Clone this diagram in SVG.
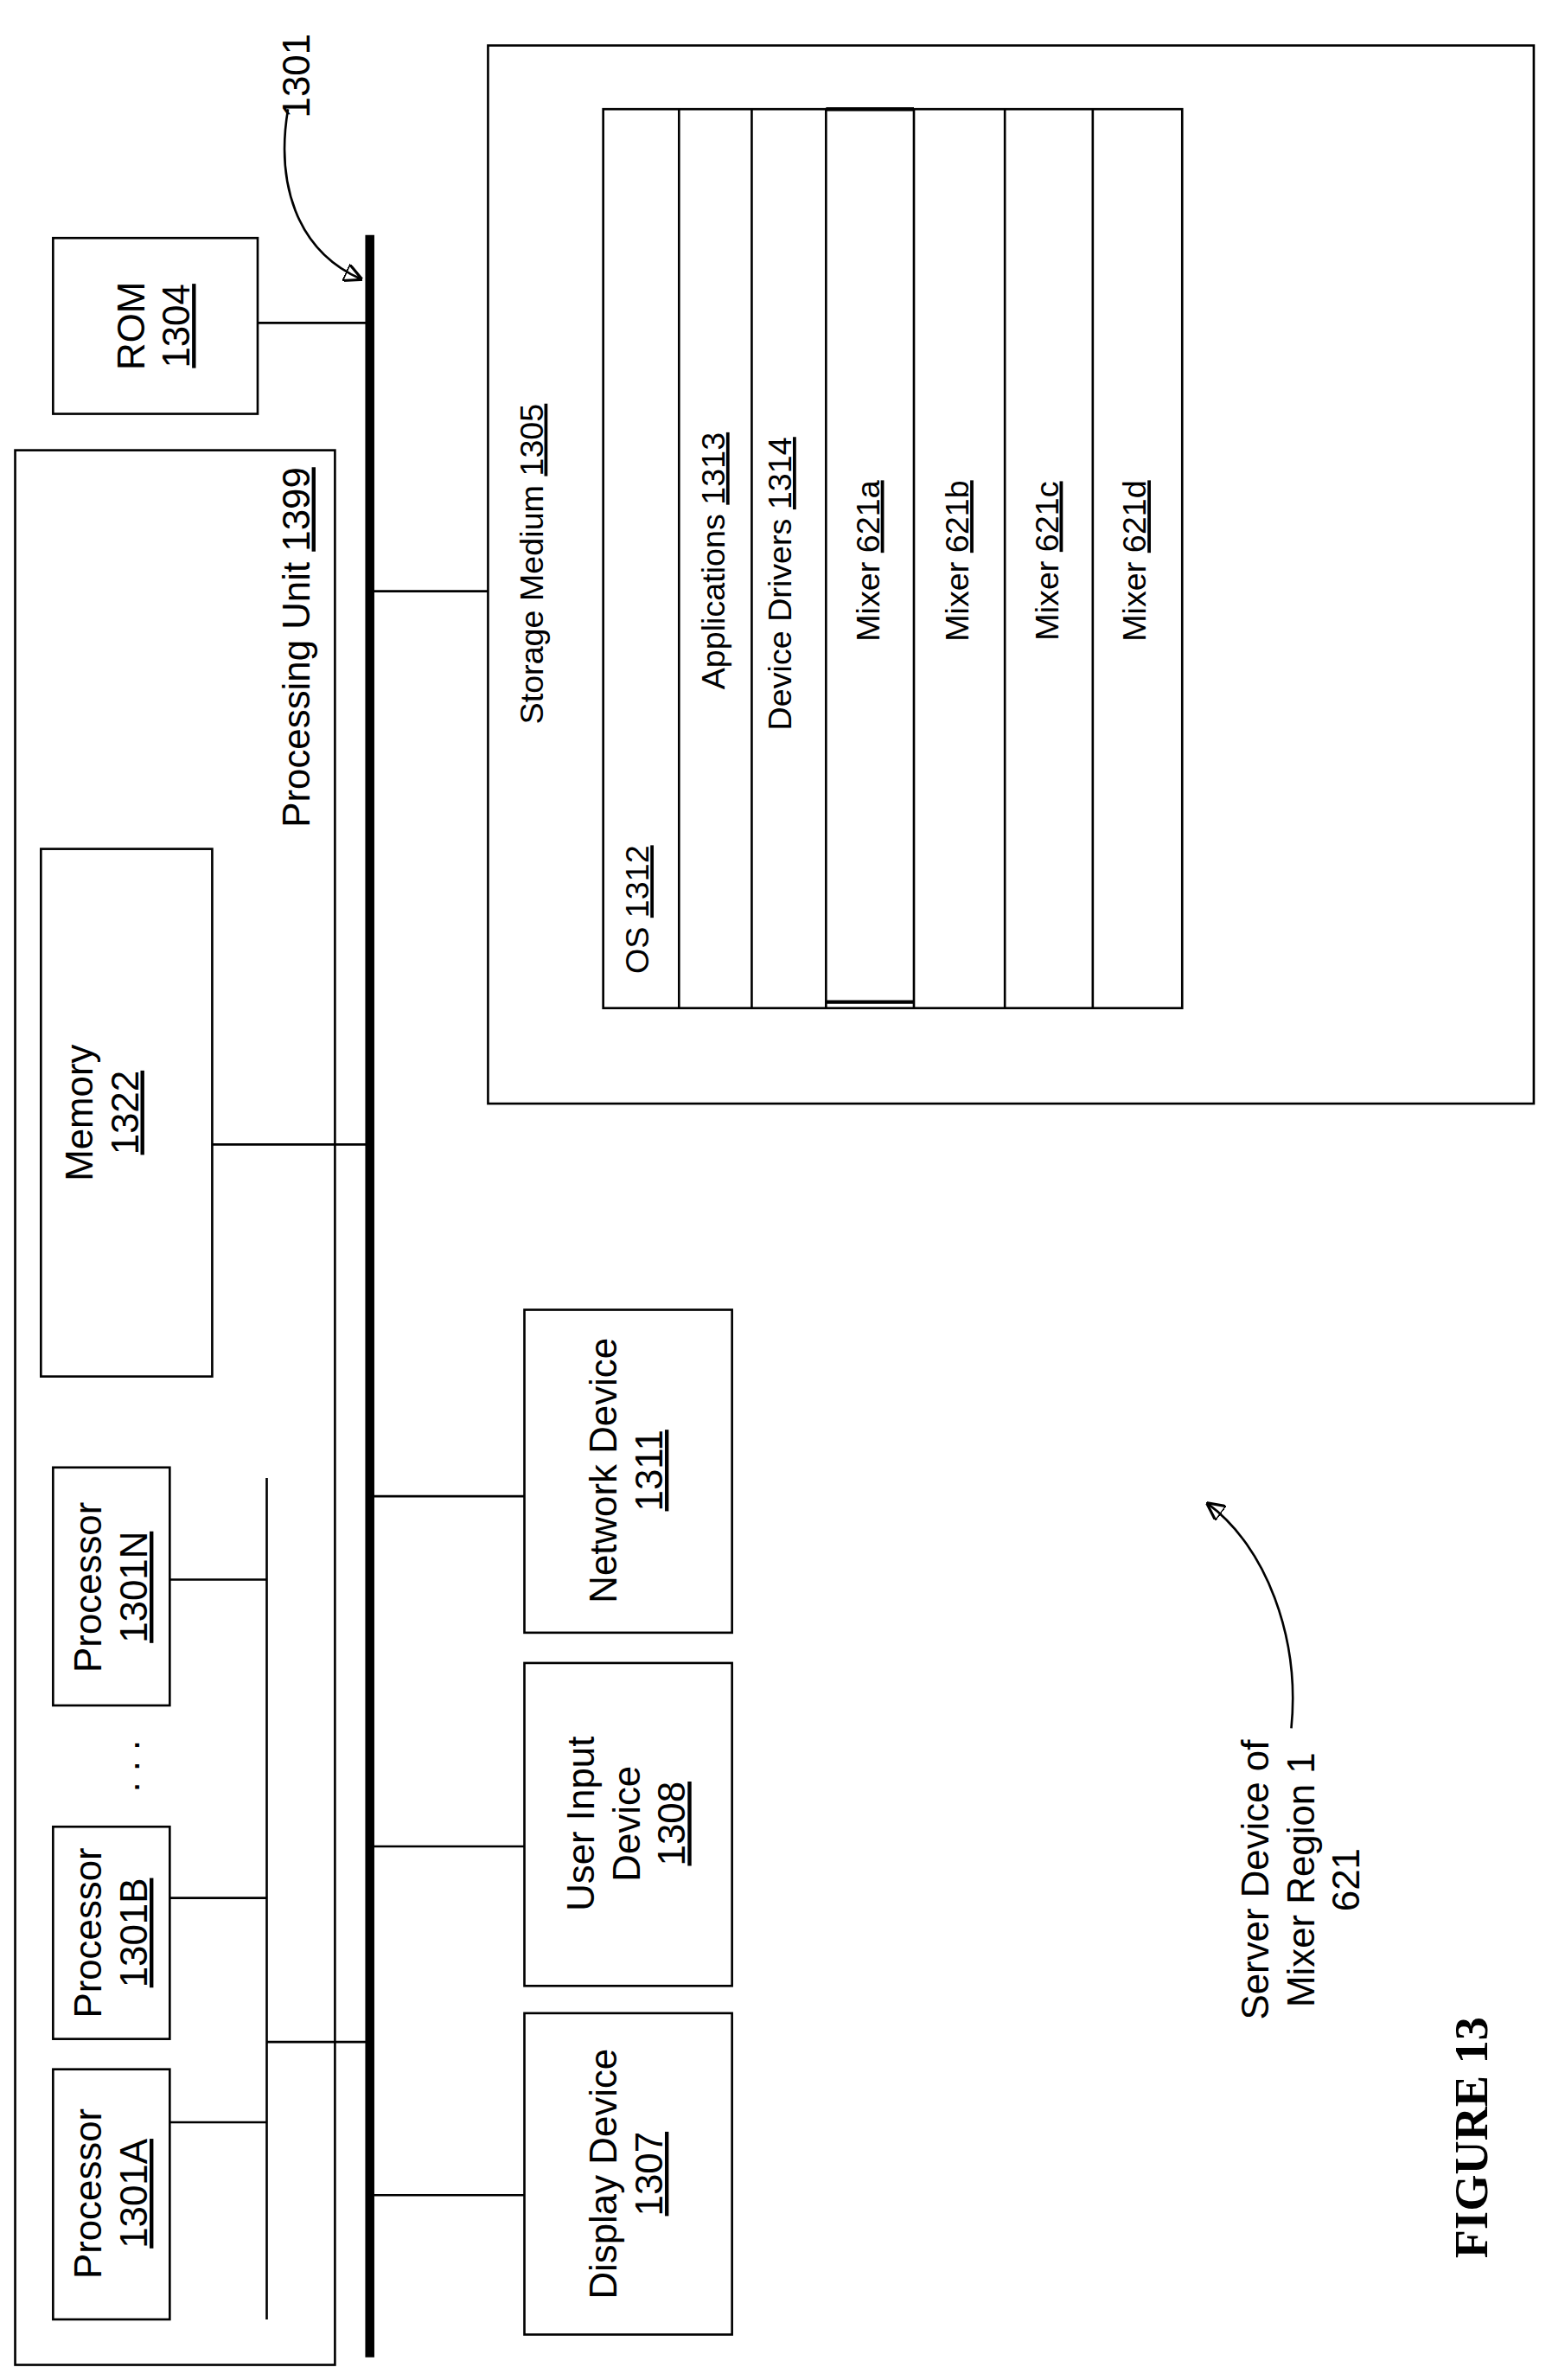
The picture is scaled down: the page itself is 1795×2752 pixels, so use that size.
<svg xmlns="http://www.w3.org/2000/svg" width="1795" height="2752" viewBox="0 0 1795 2752">
<style>
text{font-family:"Liberation Sans",Arial,sans-serif;font-size:25px;fill:#000;text-anchor:middle}
.s{font-size:21.5px}
.u{text-decoration:underline}
rect{fill:none;stroke:#000;stroke-width:1.5}
line,path{stroke:#000;stroke-width:1.5;fill:none}
</style>
<defs><marker id="ah" viewBox="0 0 10 10" refX="9" refY="5" markerWidth="8" markerHeight="8" orient="auto"><path d="M0,0 L10,5 L0,10 z" fill="#000" stroke="none"/></marker></defs>
<rect x="0" y="0" width="1795" height="2752" style="fill:#fff;stroke:none"/>
<g transform="scale(1.7529)">
<g id="connectors">
<line x1="244" y1="155" x2="244" y2="1555" style="stroke-width:6"/>
<path d="M190,72 C182,120 195,165 238,184" marker-end="url(#ah)"/>
<line x1="170" y1="213" x2="244" y2="213"/>
<line x1="140" y1="755" x2="244" y2="755"/>
<line x1="176" y1="975" x2="176" y2="1530"/>
<line x1="112" y1="1042" x2="176" y2="1042"/>
<line x1="112" y1="1252" x2="176" y2="1252"/>
<line x1="112" y1="1400" x2="176" y2="1400"/>
<line x1="176" y1="1347" x2="244" y2="1347"/>
<line x1="244" y1="1448" x2="346" y2="1448"/>
<line x1="244" y1="1218" x2="346" y2="1218"/>
<line x1="244" y1="987" x2="346" y2="987"/>
<line x1="244" y1="390" x2="322" y2="390"/>
<path d="M852,1140 C858,1080 835,1020 797,992" marker-end="url(#ah)"/>
</g>
<g id="n1301"><text transform="translate(204,50) rotate(-90)">1301</text></g>
<g id="rom"><rect x="35" y="157" width="135" height="116"/>
<text transform="translate(95,215) rotate(-90)">ROM</text><text transform="translate(125,215) rotate(-90)" class="u">1304</text></g>
<g id="pu"><rect x="10" y="297" width="211" height="1263"/>
<text transform="translate(204,427) rotate(-90)">Processing Unit <tspan class="u">1399</tspan></text></g>
<g id="memory"><rect x="27" y="560" width="113" height="348"/>
<text transform="translate(61,734) rotate(-90)">Memory</text><text transform="translate(91,734) rotate(-90)" class="u">1322</text></g>
<g id="p1301N"><rect x="35" y="968" width="77" height="157"/>
<text transform="translate(67,1047) rotate(-90)">Processor</text><text transform="translate(97,1047) rotate(-90)" class="u">1301N</text></g>
<g id="dots"><text transform="translate(92,1165) rotate(-90)">. . .</text></g>
<g id="p1301B"><rect x="35" y="1205" width="77" height="140"/>
<text transform="translate(67,1275) rotate(-90)">Processor</text><text transform="translate(97,1275) rotate(-90)" class="u">1301B</text></g>
<g id="p1301A"><rect x="35" y="1365" width="77" height="165"/>
<text transform="translate(67,1447) rotate(-90)">Processor</text><text transform="translate(97,1447) rotate(-90)" class="u">1301A</text></g>
<g id="display"><rect x="346" y="1328" width="137" height="212"/>
<text transform="translate(407,1434) rotate(-90)">Display Device</text><text transform="translate(437,1434) rotate(-90)" class="u">1307</text></g>
<g id="userinput"><rect x="346" y="1097" width="137" height="213"/>
<text transform="translate(392,1203) rotate(-90)">User Input</text><text transform="translate(422,1203) rotate(-90)">Device</text><text transform="translate(452,1203) rotate(-90)" class="u">1308</text></g>
<g id="network"><rect x="346" y="864" width="137" height="213"/>
<text transform="translate(407,970) rotate(-90)">Network Device</text><text transform="translate(437,970) rotate(-90)" class="u">1311</text></g>
<g id="storage"><rect x="322" y="30" width="690" height="698"/>
<text class="s" transform="translate(358,372) rotate(-90)">Storage Medium <tspan class="u">1305</tspan></text>
<rect x="398" y="72" width="382" height="593"/>
<line x1="448" y1="72" x2="448" y2="665"/><line x1="496" y1="72" x2="496" y2="665"/>
<line x1="545" y1="72" x2="545" y2="665"/><line x1="603" y1="72" x2="603" y2="665"/>
<line x1="663" y1="72" x2="663" y2="665"/><line x1="721" y1="72" x2="721" y2="665"/>
<line x1="545" y1="72" x2="603" y2="72" style="stroke-width:2.5"/><line x1="545" y1="661" x2="603" y2="661" style="stroke-width:2.5"/>
<text class="s" transform="translate(428,600) rotate(-90)">OS <tspan class="u">1312</tspan></text>
<text class="s" transform="translate(478,370) rotate(-90)">Applications <tspan class="u">1313</tspan></text>
<text class="s" transform="translate(522,385) rotate(-90)">Device Drivers <tspan class="u">1314</tspan></text>
<text class="s" transform="translate(580,370) rotate(-90)">Mixer <tspan class="u">621a</tspan></text>
<text class="s" transform="translate(639,370) rotate(-90)">Mixer <tspan class="u">621b</tspan></text>
<text class="s" transform="translate(698,370) rotate(-90)">Mixer <tspan class="u">621c</tspan></text>
<text class="s" transform="translate(756,370) rotate(-90)">Mixer <tspan class="u">621d</tspan></text>
</g>
<g id="server"><text transform="translate(837,1240) rotate(-90)">Server Device of</text><text transform="translate(867,1240) rotate(-90)">Mixer Region 1</text><text transform="translate(897,1240) rotate(-90)">621</text></g>
<g id="fig"><text transform="translate(981,1410) rotate(-90)" style="font-family:'Liberation Serif',serif;font-weight:bold;font-size:31px">FIGURE 13</text></g>
</g>
</svg>
